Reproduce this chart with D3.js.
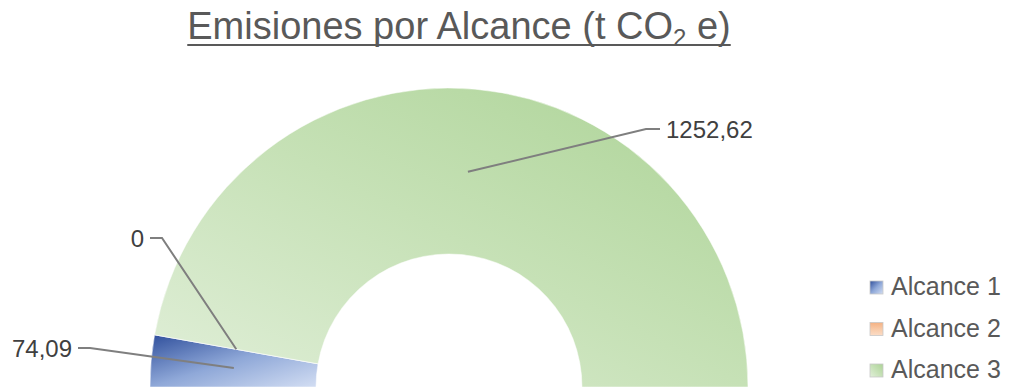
<!DOCTYPE html>
<html>
<head>
<meta charset="utf-8">
<script src="https://cdn.jsdelivr.net/npm/d3@7/dist/d3.min.js"></script>
<style>
  html, body { margin: 0; padding: 0; background: #fff; }
  svg { display: block; font-family: "Liberation Sans", Arial, sans-serif; }
</style>
</head>
<body>
<svg id="chart" width="1015" height="387"></svg>
<script>
// Emissions by scope (t CO2 e)
const categories = ["Alcance 1", "Alcance 2", "Alcance 3"];
const values = [74.09, 0, 1252.62];
const valueLabels = ["74,09", "0", "1252,62"];

const W = 1015, H = 387;
const svg = d3.select("#chart");
const defs = svg.append("defs");

// Gradient fills per scope
const grads = [
  { id: "g1", x1: 0, y1: 0, x2: 1, y2: 1, stops: ["#2f4f9c", "#8fa8d8", "#d3def3"] },
  { id: "g2", x1: 0, y1: 0, x2: 0, y2: 1, stops: ["#f4b183", "#f8c9a6", "#fbdcc6"] },
  { id: "g3", x1: 0, y1: 1, x2: 1, y2: 0, stops: ["#e1efd9", "#c6e1b6", "#acd396"] }
];
grads.forEach(g => {
  const lg = defs.append("linearGradient").attr("id", g.id)
    .attr("x1", g.x1).attr("y1", g.y1).attr("x2", g.x2).attr("y2", g.y2);
  g.stops.forEach((c, i) => lg.append("stop")
    .attr("offset", i / (g.stops.length - 1)).attr("stop-color", c));
});

// Title with subscript; underline drawn as one continuous rule
const title = svg.append("text")
  .attr("x", 459).attr("y", 39)
  .attr("text-anchor", "middle")
  .attr("font-size", 38)
  .attr("fill", "#595959");
title.append("tspan").text("Emisiones por Alcance (t CO");
title.append("tspan").attr("font-size", 24).attr("dy", 7).text("2");
title.append("tspan").attr("dy", -7).text(" e)");
const tb = title.node().getBBox();
svg.append("line")
  .attr("x1", tb.x).attr("x2", tb.x + tb.width)
  .attr("y1", 45).attr("y2", 45)
  .attr("stroke", "#595959").attr("stroke-width", 2);

// Half donut
const cx = 449, cy = 387, rOuter = 299, rInner = 133;
const pie = d3.pie().sort(null).value(d => d)
  .startAngle(-Math.PI / 2).endAngle(Math.PI / 2);
const arcs = pie(values);
const arc = d3.arc().innerRadius(rInner).outerRadius(rOuter);

const g = svg.append("g").attr("transform", `translate(${cx},${cy})`);
g.selectAll("path.slice").data(arcs).join("path")
  .attr("class", "slice")
  .attr("d", arc)
  .attr("fill", (d, i) => `url(#${grads[i].id})`)
  .attr("stroke", "#fff").attr("stroke-width", 0.5);

// Leader lines and value labels
const labelAnchors = [
  { x: 78, y: 348, elbow: 90, anchor: "end" },
  { x: 150, y: 238, elbow: 162, anchor: "end" },
  { x: 660, y: 129, elbow: 646, anchor: "start" }
];
arcs.forEach((d, i) => {
  const c = arc.centroid(d);
  const px = cx + c[0], py = cy + c[1];
  const a = labelAnchors[i];
  svg.append("polyline")
    .attr("points", `${px},${py} ${a.elbow},${a.y} ${a.x},${a.y}`)
    .attr("fill", "none").attr("stroke", "#7f7f7f").attr("stroke-width", 2);
  svg.append("text")
    .attr("x", a.anchor === "end" ? a.x - 6 : a.x + 6)
    .attr("y", a.y + 9)
    .attr("text-anchor", a.anchor)
    .attr("font-size", 24)
    .attr("fill", "#404040")
    .text(valueLabels[i]);
});

// Legend
const legend = svg.append("g").attr("transform", "translate(870,281)");
categories.forEach((c, i) => {
  const row = legend.append("g").attr("transform", `translate(0,${i * 41.5})`);
  row.append("rect").attr("width", 13).attr("height", 13)
    .attr("fill", `url(#${grads[i].id})`)
    .attr("stroke", "#c8c8c8").attr("stroke-width", 0.8);
  row.append("text").attr("x", 21).attr("y", 14)
    .attr("font-size", 25).attr("fill", "#595959").text(c);
});
</script>
</body>
</html>
